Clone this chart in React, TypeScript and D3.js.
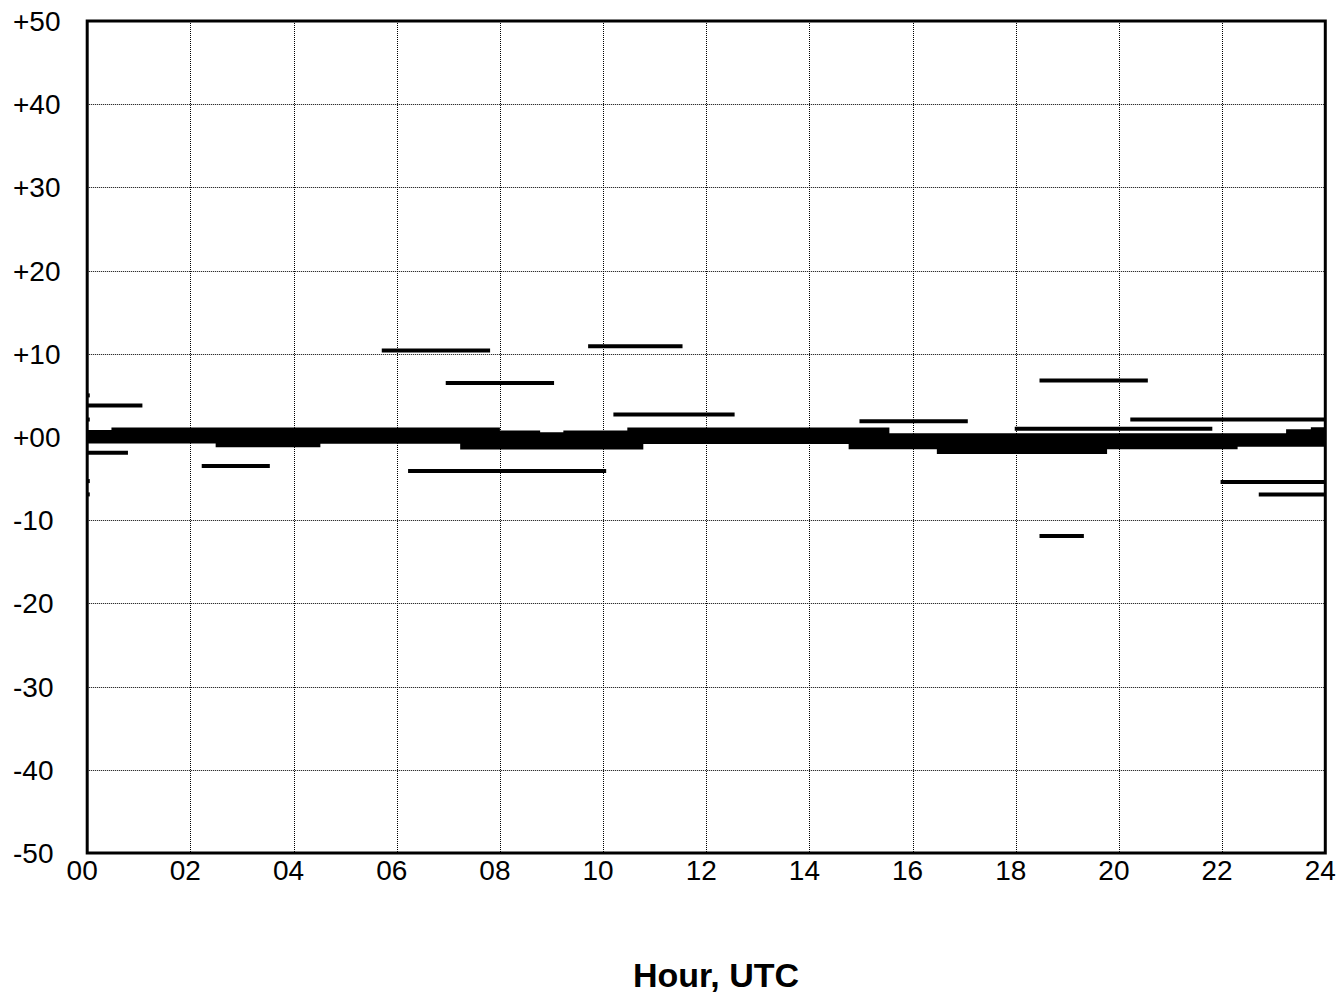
import React from "react";
import * as d3 from "d3";

// Hour axis ticks and value axis ticks
const xTicks = [0, 2, 4, 6, 8, 10, 12, 14, 16, 18, 20, 22, 24];
const xTickLabels = ["00", "02", "04", "06", "08", "10", "12", "14", "16", "18", "20", "22", "24"];
const yTicks = [50, 40, 30, 20, 10, 0, -10, -20, -30, -40, -50];
const yTickLabels = ["+50", "+40", "+30", "+20", "+10", "+00", "-10", "-20", "-30", "-40", "-50"];

// Isolated horizontal segments: start hour, end hour, value
const segStarts = [0, 0, 2.22, 5.71, 9.71, 6.95, 10.2, 6.22, 18.46, 14.97, 20.22, 17.98, 21.97, 22.71, 18.46, 0, 0, 0, 0];
const segEnds = [1.07, 0.79, 3.54, 7.81, 11.54, 9.05, 12.55, 10.06, 20.56, 17.07, 24, 21.81, 24, 24, 19.32, 0.05, 0.05, 0.05, 0.05];
const segValues = [3.8, -1.9, -3.5, 10.4, 10.9, 6.5, 2.7, -4.1, 6.8, 1.9, 2.1, 1.0, -5.4, -6.9, -11.9, 5.0, 2.1, -5.3, -6.9];

// Dense cluster near zero: upper envelope (start hour, value) and lower envelope
const bandUpperStarts = [0, 0.47, 8.0, 8.78, 9.23, 10.47, 15.55, 23.24, 23.72];
const bandUpperValues = [0.6, 0.89, 0.53, 0.32, 0.53, 0.89, 0.2, 0.69, 0.93];
const bandLowerStarts = [0, 2.49, 4.52, 7.23, 10.78, 14.76, 16.47, 19.77, 22.3];
const bandLowerValues = [-0.55, -1.0, -0.58, -1.27, -0.6, -1.24, -1.8, -1.24, -0.94];

const W = 1343;
const H = 995;
const FONT = "'Liberation Sans', Arial, sans-serif";

function stepValue(starts: number[], values: number[], h: number) {
  let v = values[0];
  for (let i = 0; i < starts.length; i++) if (h >= starts[i]) v = values[i];
  return v;
}

export default function App() {
  const x = d3.scaleLinear().domain([0, 24]).range([87.2, 1325.3]);
  const y = d3.scaleLinear().domain([-50, 50]).range([853, 21]);

  const breaks = Array.from(new Set([...bandUpperStarts, ...bandLowerStarts, 24])).sort((a, b) => a - b);
  const bandPts = breaks.map((h) => ({
    h,
    hi: stepValue(bandUpperStarts, bandUpperValues, h),
    lo: stepValue(bandLowerStarts, bandLowerValues, h),
  }));
  const area = d3
    .area<{ h: number; hi: number; lo: number }>()
    .x((d) => x(d.h))
    .y0((d) => y(d.lo) + 2)
    .y1((d) => y(d.hi) - 2)
    .curve(d3.curveStepAfter);

  return (
    <svg
      width={W}
      height={H}
      style={{ position: "absolute", left: 0, top: 0, background: "#fff" }}
      fontFamily={FONT}
    >
      <rect x={0} y={0} width={W} height={H} fill="#fff" />
      {/* grid */}
      {xTicks.slice(1, -1).map((t) => (
        <line
          key={"gx" + t}
          x1={Math.round(x(t)) + 0.5}
          x2={Math.round(x(t)) + 0.5}
          y1={y(50)}
          y2={y(-50)}
          stroke="#000"
          strokeWidth={1}
          strokeDasharray="1,1"
        />
      ))}
      {yTicks.slice(1, -1).map((t) => (
        <line
          key={"gy" + t}
          x1={x(0)}
          x2={x(24)}
          y1={Math.round(y(t)) + 0.5}
          y2={Math.round(y(t)) + 0.5}
          stroke="#000"
          strokeWidth={1}
          strokeDasharray="1,1"
        />
      ))}
      {/* band near zero */}
      <path d={area(bandPts) || ""} fill="#000" />
      {/* segments */}
      {segValues.map((v, i) => (
        <line
          key={"s" + i}
          x1={x(segStarts[i])}
          x2={x(segEnds[i])}
          y1={y(v)}
          y2={y(v)}
          stroke="#000"
          strokeWidth={4}
        />
      ))}
      {/* frame */}
      <rect
        x={x(0)}
        y={y(50)}
        width={x(24) - x(0)}
        height={y(-50) - y(50)}
        fill="none"
        stroke="#000"
        strokeWidth={3}
      />
      {/* y labels */}
      {yTicks.map((t, i) => (
        <text
          key={"yl" + t}
          x={13}
          y={y(t)}
          dy="0.36em"
          fontSize={28}
          fill="#000"
        >
          {yTickLabels[i]}
        </text>
      ))}
      {/* x labels */}
      {xTicks.map((t, i) => (
        <text
          key={"xl" + t}
          x={x(t) - 5}
          y={880}
          textAnchor="middle"
          fontSize={28}
          fill="#000"
        >
          {xTickLabels[i]}
        </text>
      ))}
      <text x={716} y={987} textAnchor="middle" fontSize={34} fontWeight="bold" fill="#000">
        Hour, UTC
      </text>
    </svg>
  );
}
